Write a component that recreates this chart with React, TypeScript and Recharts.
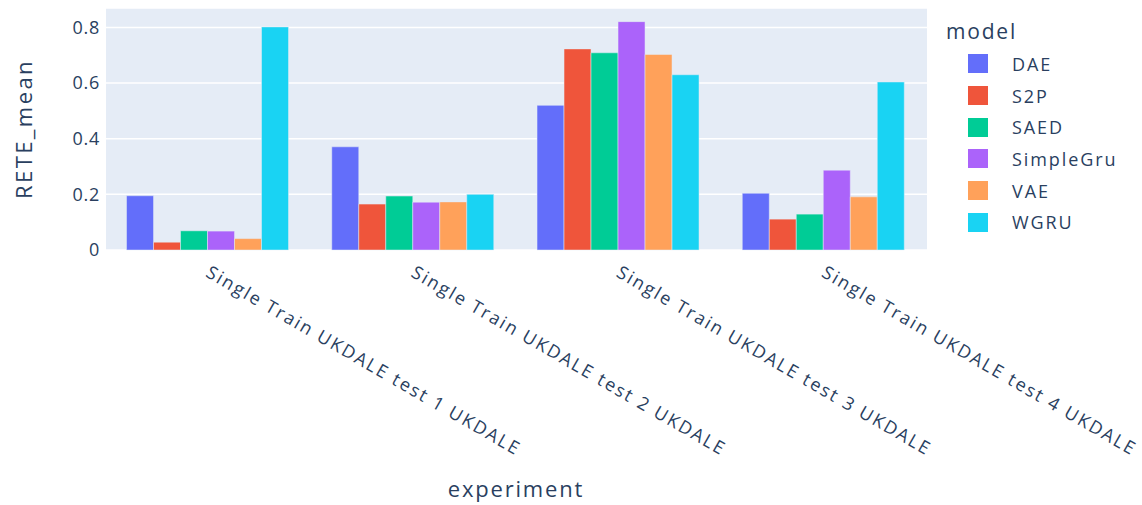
import React from "react";
import { BarChart, Bar, XAxis, YAxis, CartesianGrid, Label } from "recharts";

const categories = [
  "Single Train UKDALE test 1 UKDALE",
  "Single Train UKDALE test 2 UKDALE",
  "Single Train UKDALE test 3 UKDALE",
  "Single Train UKDALE test 4 UKDALE",
];
const models = ["DAE", "S2P", "SAED", "SimpleGru", "VAE", "WGRU"];
const modelColors = ["#636EFA", "#EF553B", "#00CC96", "#AB63FA", "#FFA15A", "#19D3F3"];

const daeValues = [0.195, 0.371, 0.52, 0.204];
const s2pValues = [0.028, 0.165, 0.723, 0.111];
const saedValues = [0.069, 0.194, 0.709, 0.129];
const simpleGruValues = [0.068, 0.172, 0.821, 0.287];
const vaeValues = [0.041, 0.173, 0.703, 0.191];
const wgruValues = [0.802, 0.2, 0.63, 0.604];

const yTicks = [0, 0.2, 0.4, 0.6, 0.8];

const seriesValues = [daeValues, s2pValues, saedValues, simpleGruValues, vaeValues, wgruValues];

const data = categories.map((c, i) => {
  const row: Record<string, string | number> = { experiment: c };
  models.forEach((m, j) => {
    row[m] = seriesValues[j][i];
  });
  return row;
});

const FONT = "'Open Sans', Verdana, Arial, sans-serif";
const TEXT = "#2a3f5f";

const XTick = (props: any) => {
  const { x, y, payload } = props;
  const px = x - 4;
  const py = y + 26;
  return (
    <text
      x={px}
      y={py}
      transform={`rotate(30, ${px}, ${py})`}
      textAnchor="start"
      fill={TEXT}
      fontSize={18}
      letterSpacing={2}
      fontFamily={FONT}
    >
      {payload.value}
    </text>
  );
};

export default function App() {
  return (
    <div style={{ position: "relative", width: 1142, height: 505, fontFamily: FONT }}>
      <style>{`body{margin:0}`}</style>
      <BarChart
        width={1142}
        height={505}
        data={data}
        margin={{ top: 8, right: 215, bottom: 0, left: 0 }}
        barCategoryGap="10%"
        barGap={0}
      >
        <CartesianGrid fill="#E5ECF6" stroke="#ffffff" strokeWidth={1.5} vertical={false} />
        <XAxis
          dataKey="experiment"
          height={255}
          tickLine={false}
          axisLine={false}
          tickSize={0}
          tickMargin={0}
          interval={0}
          tick={<XTick />}
        >
          <Label
            content={() => (
              <text
                x={516}
                y={497}
                textAnchor="middle"
                fill={TEXT}
                fontSize={22}
                letterSpacing={1.8}
                fontFamily={FONT}
              >
                experiment
              </text>
            )}
          />
        </XAxis>
        <YAxis
          width={106}
          domain={[0, 0.87]}
          ticks={yTicks}
          tickLine={false}
          axisLine={false}
          tickSize={0}
          tickMargin={6}
          tick={{ fill: TEXT, fontSize: 18, fontFamily: FONT, letterSpacing: 0.7 }}
          tickFormatter={(v: number) => (v === 0 ? "0" : String(v))}
        >
          <Label
            content={() => (
              <text
                x={32}
                y={129}
                transform="rotate(-90, 32, 129)"
                textAnchor="middle"
                fill={TEXT}
                fontSize={22}
                letterSpacing={2.4}
                fontFamily={FONT}
              >
                RETE_mean
              </text>
            )}
          />
        </YAxis>
        {models.map((m, j) => (
          <Bar
            key={m}
            dataKey={m}
            fill={modelColors[j]}
            stroke="#E5ECF6"
            strokeWidth={0.5}
            isAnimationActive={false}
          />
        ))}
      </BarChart>
      <div style={{ position: "absolute", left: 946, top: 16, color: TEXT }}>
        <div style={{ fontSize: 21, lineHeight: "30px", height: 32, letterSpacing: 1.8 }}>model</div>
        {models.map((m, j) => (
          <div key={m} style={{ display: "flex", alignItems: "center", height: 31.7 }}>
            <div style={{ width: 20, height: 19, background: modelColors[j], marginLeft: 22, marginRight: 24 }} />
            <span style={{ fontSize: 18, letterSpacing: 1.9 }}>{m}</span>
          </div>
        ))}
      </div>
    </div>
  );
}
